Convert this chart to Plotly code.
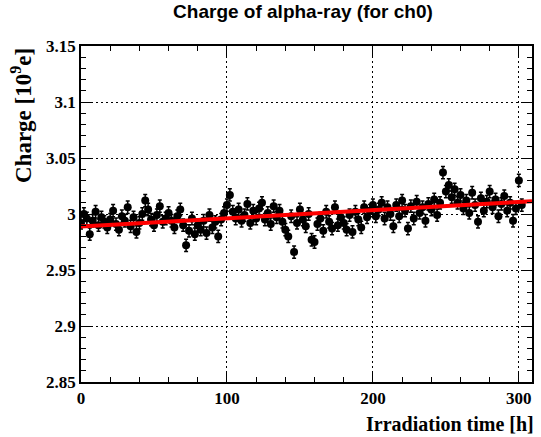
import plotly.graph_objects as go

# Irradiation time [h] of each measurement
time_h = [
    0, 2, 4, 6, 8, 10, 12, 14, 16, 18,
    20, 22, 24, 26, 28, 30, 32, 34, 36, 38,
    40, 42, 44, 46, 48, 50, 52, 54, 56, 58,
    60, 62, 64, 66, 68, 70, 72, 74, 76, 78,
    80, 82, 84, 86, 88, 90, 92, 94, 96, 98,
    100, 102, 104, 106, 108, 110, 112, 114, 116, 118,
    120, 122, 124, 126, 128, 130, 132, 134, 136, 138,
    140, 142, 144, 146, 148, 150, 152, 154, 156, 158,
    160, 162, 164, 166, 168, 170, 172, 174, 176, 178,
    180, 182, 184, 186, 188, 190, 192, 194, 196, 198,
    200, 202, 204, 206, 208, 210, 212, 214, 216, 218,
    220, 222, 224, 226, 228, 230, 232, 234, 236, 238,
    240, 242, 244, 246, 248, 250, 252, 254, 256, 258,
    260, 262, 264, 266, 268, 270, 272, 274, 276, 278,
    280, 282, 284, 286, 288, 290, 292, 294, 296, 298,
    300, 302,
]

# Alpha-ray charge [10^9 e]
charge = [
    2.992, 3.000, 2.996, 2.982, 2.994, 3.002, 2.990, 2.997, 2.993, 2.988,
    2.995, 3.003, 2.991, 2.986, 2.998, 2.994, 3.006, 2.989, 2.997, 2.984,
    2.992, 3.000, 3.012, 3.004, 2.995, 2.990, 2.999, 3.007, 2.993, 2.996,
    3.001, 2.994, 2.988, 2.998, 3.004, 2.990, 2.972, 2.985, 2.996, 2.982,
    2.990, 2.986, 2.994, 2.983, 2.999, 2.988, 2.993, 2.980, 2.995, 3.001,
    3.008, 3.017, 3.002, 2.996, 3.004, 2.994, 2.999, 3.009, 2.992, 3.003,
    2.996, 3.005, 3.010, 2.995, 3.001, 2.991, 3.007, 2.997, 3.003, 2.993,
    2.986, 2.980, 2.998, 2.966, 2.992, 3.004, 2.995, 2.989, 3.000, 2.977,
    2.975, 2.991, 2.996, 2.985, 3.002, 2.993, 2.987, 3.006, 2.990, 2.997,
    2.992, 2.986, 2.999, 2.984, 3.002, 2.995, 2.988, 3.006, 2.997, 3.003,
    3.008, 2.998, 3.004, 3.010, 2.996, 3.006, 3.000, 2.989, 3.008, 2.998,
    3.012, 3.003, 2.987, 3.007, 2.996, 3.011, 3.001, 3.006, 2.994, 3.009,
    3.004, 3.013, 2.999, 3.010, 3.037, 3.020, 3.026, 3.015, 3.022, 3.010,
    3.017, 3.005, 3.012, 3.001, 3.019, 3.008, 2.993, 3.014, 3.003, 3.011,
    3.020, 3.006, 3.013, 2.998, 3.009, 3.016, 3.003, 3.010, 2.994, 3.005,
    3.030, 3.008,
]

charge_err = 0.0055

# Linear fit: charge = p0 + p1 * t
fit_p0 = 2.9889
fit_p1 = 7.3e-5
fit_t = [0, 309]
fit_q = [fit_p0 + fit_p1 * t for t in fit_t]

x_range = [0, 309]
y_range = [2.85, 3.15]
x_ticks = [0, 100, 200, 300]
x_ticklabels = ["0", "100", "200", "300"]
y_ticks = [2.85, 2.9, 2.95, 3.0, 3.05, 3.1, 3.15]
y_ticklabels = ["2.85", "2.9", "2.95", "3", "3.05", "3.1", "3.15"]

tick_font = dict(family="Liberation Serif", size=17, color="black")


def bold(labels):
    return ["<b>%s</b>" % s for s in labels]


fig = go.Figure()
fig.add_trace(go.Scatter(
    x=time_h, y=charge, mode="markers",
    marker=dict(color="black", size=8, symbol="circle"),
    error_y=dict(type="constant", value=charge_err, color="black",
                 thickness=1.5, width=2),
    showlegend=False,
))
fig.add_trace(go.Scatter(
    x=fit_t, y=fit_q, mode="lines",
    line=dict(color="red", width=4),
    showlegend=False,
))

axis_common = dict(
    showline=True, linecolor="black", linewidth=1.5, mirror="allticks",
    ticks="inside", tickcolor="black", tickwidth=1,
    showgrid=True, gridcolor="black", gridwidth=1, griddash="2px,3px",
    zeroline=False, tickfont=tick_font,
)

fig.update_xaxes(
    range=x_range, tickvals=x_ticks, ticktext=bold(x_ticklabels), ticklen=10,
    minor=dict(dtick=20, ticks="inside", ticklen=5, tickcolor="black", showgrid=False),
    **axis_common,
)
fig.update_yaxes(
    range=y_range, tickvals=y_ticks, ticktext=bold(y_ticklabels), ticklen=10,
    minor=dict(dtick=0.01, tick0=2.85, ticks="inside", ticklen=5, tickcolor="black", showgrid=False),
    **axis_common,
)

fig.update_layout(
    width=541, height=437,
    margin=dict(l=81, r=7, t=46, b=55),
    paper_bgcolor="white", plot_bgcolor="white",
    title=dict(text="<b>Charge of alpha-ray (for ch0)</b>",
               font=dict(family="Liberation Sans", size=19, color="black"),
               x=0.56, xanchor="center", y=0.99, yanchor="top"),
    annotations=[
        dict(text="<b>Irradiation time [h]</b>", xref="paper", yref="paper",
             x=1.0, y=0, xanchor="right", yanchor="top", yshift=-29, xshift=4,
             showarrow=False, font=dict(family="Liberation Serif", size=20, color="black")),
        dict(text="<b>Charge [10<sup>9</sup>e]</b>", xref="paper", yref="paper",
             x=0, y=1.0, xanchor="right", yanchor="top", xshift=-43,
             textangle=-90, showarrow=False,
             font=dict(family="Liberation Serif", size=23, color="black")),
    ],
)

fig.write_html("out.html")
